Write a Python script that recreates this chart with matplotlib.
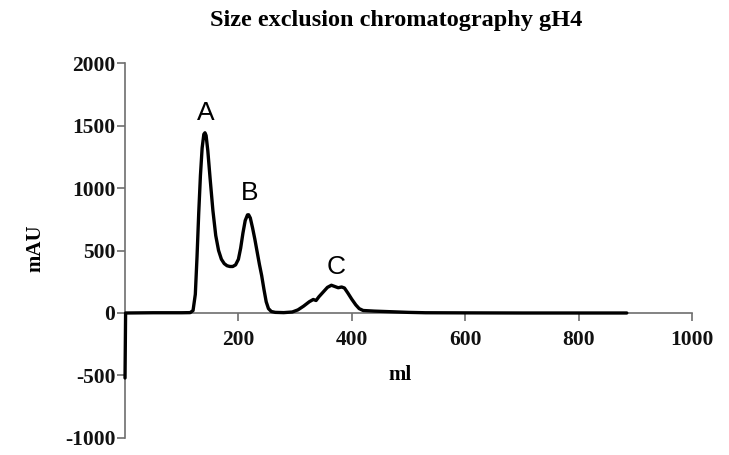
import matplotlib
matplotlib.use("Agg")
import matplotlib.pyplot as plt

# Data
ml = [0, 1, 50, 100, 115, 120, 124, 127, 130, 133, 136, 139, 141, 143, 146, 150,
      155, 160, 165, 170, 175, 180, 185, 190, 195, 200, 204, 208, 212, 216, 218,
      221, 225, 229, 233, 237, 241, 245, 249, 253, 258, 265, 280, 295, 305, 315,
      325, 332, 337, 342, 350, 357, 364, 370, 376, 382, 387, 393, 400, 407, 413,
      420, 440, 470, 500, 530, 600, 700, 800, 885]
mau = [-520, 0, 2, 2, 3, 20, 150, 450, 800, 1100, 1320, 1430, 1442, 1420, 1300, 1080,
       820, 620, 500, 430, 395, 378, 372, 372, 385, 430, 520, 640, 740, 785, 786,
       760, 680, 590, 490, 390, 300, 190, 90, 35, 12, 5, 3, 8, 25, 55,
       90, 108, 100, 130, 170, 205, 222, 212, 202, 208, 200, 160, 110, 65, 35,
       20, 15, 10, 5, 2, 1, 0, 0, 0]

peak_labels = ["A", "B", "C"]
peak_x = [143, 220, 373]
peak_y = [1600, 960, 370]

x_ticks = [200, 400, 600, 800, 1000]
y_ticks = [-1000, -500, 0, 500, 1000, 1500, 2000]

fig = plt.figure(figsize=(7.29, 4.55), dpi=100)
ax = fig.add_axes([0.1715, 0.0374, 0.9492 - 0.1715, 0.8615 - 0.0374])

ax.plot(ml, mau, color="black", lw=2.4, solid_joinstyle="round",
        solid_capstyle="round", zorder=4, clip_on=False)

for lab, px, py in zip(peak_labels, peak_x, peak_y):
    ax.text(px, py, lab, ha="center", va="center", fontsize=19,
            family="Liberation Sans", color="black")

ax.set_xlim(0, 1000)
ax.set_ylim(-1000, 2000)

spine_col = "#6e6e6e"
for s in ["top", "right"]:
    ax.spines[s].set_visible(False)
ax.spines["bottom"].set_position(("data", 0))
ax.spines["bottom"].set_color(spine_col)
ax.spines["left"].set_color(spine_col)
ax.spines["bottom"].set_linewidth(1.2)
ax.spines["left"].set_linewidth(1.2)

ax.set_xticks(x_ticks)
ax.set_yticks(y_ticks)
ax.set_xticklabels([str(v) for v in x_ticks])
ax.set_yticklabels([str(v) for v in y_ticks])

for lbl in ax.get_xticklabels() + ax.get_yticklabels():
    lbl.set_fontfamily("Liberation Serif")
    lbl.set_fontweight("bold")
    lbl.set_fontsize(15.5)

ax.tick_params(axis="both", direction="out", length=6, width=1.2,
               color=spine_col, labelcolor="#111111")
ax.tick_params(axis="x", pad=6)
ax.tick_params(axis="y", pad=1)

fig.text(0.048, 0.455, "mAU", rotation=90, ha="center", va="center",
         family="Liberation Serif", weight="bold", fontsize=15)
fig.text(0.549, 0.175, "ml", ha="center", va="center",
         family="Liberation Serif", weight="bold", fontsize=15)
fig.text(0.544, 0.955, "Size exclusion chromatography gH4", ha="center", va="center",
         family="Liberation Serif", weight="bold", fontsize=17.5)

fig.savefig("out.png", dpi=100)
